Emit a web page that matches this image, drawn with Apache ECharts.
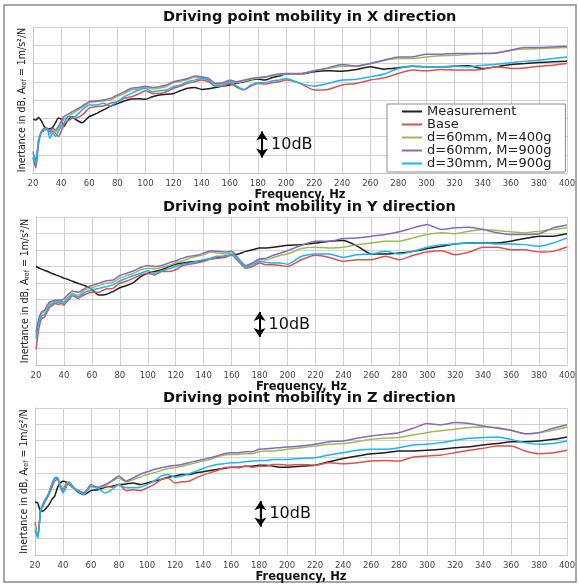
<!DOCTYPE html>
<html>
<head>
<meta charset="utf-8">
<script src="https://cdn.jsdelivr.net/npm/echarts@6/dist/echarts.min.js"></script>
<style>
  html, body { margin: 0; padding: 0; background: #fff; }
  #chart { width: 579px; height: 586px; }
</style>
</head>
<body>
<div id="chart"></div>
<script>
// frequency points (Hz), shared by every curve
const freq = [20,22,24,26,28,30,32,34,36,38,40,42,44,46,48,50,
  55,60,65,70,75,80,85,90,95,100,105,110,115,120,125,130,135,140,145,150,
  155,160,165,170,175,180,185,190,195,200,
  210,220,230,240,250,260,270,280,290,300,310,320,330,340,350,360,370,380,390,400];

const seriesNames = ['Measurement', 'Base', 'd=60mm, M=400g', 'd=60mm, M=900g', 'd=30mm, M=900g'];
const xTicks = [20,40,60,80,100,120,140,160,180,200,220,240,260,280,300,320,340,360,380,400];

// --- X direction (relative dB)
const measX = [29.5,29.0,30.4,28.5,25.5,24.0,24.2,25.0,27.5,30.2,29.5,25.5,28.0,30.0,30.9,29.5,
  27.5,30.9,32.5,34.5,36.5,38.0,39.5,40.5,40.7,40.4,41.8,42.7,43.1,43.6,45.1,46.4,46.9,45.8,46.2,46.9,
  47.6,48.2,49.1,50.0,50.9,51.5,50.9,52.2,53.1,54.2,
  54.2,55.5,56.0,55.8,56.7,58.2,56.9,57.6,58.5,58.2,58.2,58.5,58.7,57.3,58.2,59.5,60.0,60.5,60.9,61.3];
const baseX = [10.9,7.3,18.2,22.7,24.5,24.5,21.8,22.7,21.8,20.0,22.7,26.4,28.2,29.1,30.0,30.0,
  31.8,35.5,36.4,36.7,38.2,39.1,40.9,41.8,43.3,45.1,43.6,43.6,44.5,46.4,47.6,49.1,50.0,50.9,50.0,47.6,
  47.6,49.1,46.9,45.5,47.6,49.1,48.7,49.5,50.0,50.9,
  49.1,45.5,45.8,48.2,49.1,50.9,52.2,54.5,56.4,56.0,56.7,56.4,56.4,56.9,58.2,57.3,57.6,58.5,59.1,60.0];
const d60m400X = [9.0,4.0,17.0,22.5,23.5,24.5,22.0,23.5,22.5,24.5,27.0,29.5,30.5,31.5,32.5,33.5,
  36.0,38.5,39.0,39.5,40.0,42.0,43.5,45.5,46.0,47.0,46.0,46.5,47.5,49.5,50.3,51.2,52.5,52.2,51.2,48.5,
  49.0,50.5,49.5,50.3,51.2,52.0,52.3,53.2,53.8,54.2,
  54.2,56.0,57.3,58.5,58.5,60.0,61.8,62.7,62.7,63.6,64.2,64.5,65.1,65.5,65.8,67.3,68.0,68.2,68.5,68.7];
const d60m900X = [8.2,2.7,16.4,22.2,23.3,24.5,22.7,24.5,23.6,25.5,28.2,30.9,31.8,32.7,33.6,34.5,
  36.7,39.1,39.5,40.0,40.9,42.7,44.5,46.4,46.9,47.6,46.9,47.3,48.2,50.0,50.9,51.8,53.1,52.7,51.8,49.1,
  49.5,50.9,50.0,50.9,51.8,52.4,52.7,53.6,54.2,54.5,
  54.5,56.0,57.6,59.5,58.5,60.0,61.8,63.6,63.6,65.1,65.1,65.5,65.5,65.5,65.8,67.3,68.7,68.7,69.1,69.5];
const d30m900X = [11.8,5.5,18.2,22.7,23.6,24.5,19.1,21.8,20.0,22.7,25.5,27.3,30.0,30.9,30.5,30.9,
  34.5,37.3,37.3,38.2,36.7,39.1,41.8,43.6,45.5,46.4,44.5,45.1,45.5,47.3,48.2,50.0,50.9,51.8,50.9,47.6,
  48.2,50.0,47.6,45.8,48.2,49.5,49.5,50.4,50.9,51.8,
  49.1,47.6,49.1,50.9,51.3,52.7,54.2,57.3,58.5,58.2,58.2,58.5,58.2,59.1,59.6,60.4,61.3,61.8,62.7,63.6];

// --- Y direction
const measY = [59.9,59.0,58.3,57.6,57.0,56.2,55.5,54.8,54.2,53.6,52.8,52.3,51.6,51.0,50.3,49.7,
  48.2,46.0,42.5,42.9,44.6,47.0,48.3,50.3,53.8,55.8,56.9,57.9,59.9,61.3,62.0,62.6,63.0,63.4,64.6,65.0,
  66.1,67.1,67.5,69.1,70.1,71.2,71.2,71.6,72.2,72.8,
  73.2,74.2,75.3,75.7,72.2,67.5,67.5,68.1,69.1,70.8,72.2,73.6,74.2,74.2,74.2,75.3,76.9,78.3,78.3,79.8];
const baseY = [9.4,22.1,28.2,29.2,32.3,35.4,36.4,37.4,36.8,37.4,36.4,38.4,40.1,42.1,41.5,40.5,
  42.9,44.2,44.2,46.2,46.6,49.7,51.1,52.8,54.8,55.8,54.8,56.9,56.9,57.9,60.5,61.3,62.0,63.0,64.6,65.0,
  65.4,66.7,63.0,58.9,59.9,62.0,60.9,60.9,60.5,59.9,
  64.0,66.7,65.4,63.0,64.0,64.0,66.1,64.0,66.7,68.7,69.5,67.1,68.7,71.6,71.6,70.1,70.1,68.7,69.1,71.8];
const d60m400Y = [18.0,27.2,31.3,32.3,34.8,37.4,38.4,38.9,38.4,38.9,38.4,40.5,42.1,43.6,42.9,42.5,
  45.6,47.0,48.3,49.7,50.3,52.8,54.4,55.8,57.9,58.9,58.5,59.3,60.5,62.0,63.4,65.0,66.1,67.1,68.7,68.1,
  67.5,68.1,64.0,59.9,62.0,64.0,64.0,65.4,66.7,67.5,
  70.8,71.6,71.2,71.6,73.2,74.2,75.3,75.3,77.3,79.3,80.4,79.8,81.4,82.4,81.8,81.0,80.4,81.4,82.4,83.4];
const d60m900Y = [20.0,28.2,32.3,33.3,36.4,38.4,38.9,39.5,39.3,39.5,40.1,42.1,43.6,45.0,44.6,44.2,
  46.6,48.3,49.7,51.1,51.7,54.4,55.8,57.3,59.3,60.5,59.9,60.5,62.0,63.4,65.0,66.1,66.7,68.1,69.5,69.1,
  68.7,69.1,64.6,60.5,62.0,64.6,65.0,66.7,68.1,69.5,
  72.8,75.3,75.3,76.9,77.3,78.3,79.3,81.0,83.4,85.5,82.4,83.4,83.8,82.4,80.4,79.3,79.3,79.8,83.4,85.1];
const d30m900Y = [16.0,25.2,29.9,30.7,33.3,36.4,37.4,38.4,38.0,38.4,37.4,39.5,40.9,42.5,42.1,41.5,
  44.2,45.6,46.6,47.6,48.7,51.1,52.8,54.4,55.8,57.3,55.8,57.3,58.5,59.9,61.3,62.0,63.0,64.0,65.0,66.1,
  66.1,67.1,64.0,59.3,60.9,63.0,62.4,62.0,62.0,61.3,
  66.1,67.5,67.5,65.4,67.1,67.5,69.1,67.5,69.1,71.6,73.2,73.6,74.2,74.2,73.6,73.6,73.2,72.2,74.2,77.3];

// --- Z direction
const measZ = [32.4,31.8,26.7,27.1,28.7,30.8,33.9,35.9,41.1,44.1,45.2,44.8,43.5,42.1,40.7,39.0,
  37.0,39.4,40.0,41.5,42.1,43.1,43.5,44.1,43.1,44.1,45.2,46.2,47.6,48.3,49.3,49.3,50.3,50.9,51.7,52.4,
  53.0,53.8,53.8,54.4,54.4,55.0,55.0,54.4,53.8,53.8,
  54.4,55.0,57.1,59.1,60.6,62.0,62.6,63.7,63.7,64.1,64.7,65.7,66.3,67.4,68.2,69.4,69.4,69.8,70.8,72.3];
const baseZ = [20.1,11.3,26.7,30.8,33.9,37.0,41.1,45.2,46.2,43.1,40.0,43.5,44.8,43.1,41.1,40.0,
  38.0,43.1,41.1,42.1,41.5,43.1,39.4,40.0,39.4,41.1,43.1,46.2,47.2,44.1,44.8,45.2,47.2,48.9,50.3,51.7,
  53.4,53.8,53.4,54.4,53.8,54.4,54.4,55.4,55.4,55.0,
  55.4,55.0,56.5,55.9,56.5,57.5,57.9,57.5,60.0,60.6,61.2,62.6,64.1,65.3,66.7,66.7,63.7,62.0,62.6,64.1];
const d60m400Z = [18.5,11.3,27.7,31.8,34.9,38.6,43.1,46.8,47.2,42.1,39.0,42.1,44.8,43.1,41.1,39.4,
  38.0,42.1,41.5,42.1,45.2,47.2,44.8,46.2,47.6,49.3,50.3,51.7,53.0,53.4,54.4,55.4,56.5,57.5,58.5,60.0,
  61.2,61.6,61.6,62.0,62.0,63.2,63.7,63.7,64.1,64.7,
  65.7,66.7,67.8,68.2,69.4,70.8,71.5,71.9,73.5,74.9,76.0,77.0,78.0,78.4,78.0,76.4,74.3,74.9,76.4,78.4];
const d60m900Z = [14.4,11.3,26.7,31.2,34.5,38.0,43.1,46.8,46.8,42.1,38.6,41.5,44.1,42.7,40.7,39.4,
  38.0,42.1,41.5,43.1,45.6,48.3,45.2,47.2,49.3,50.9,52.4,53.4,54.4,54.8,55.4,56.5,57.5,58.5,59.5,60.6,
  62.0,62.6,62.6,63.2,63.2,64.7,65.1,65.3,65.7,66.1,
  66.7,67.8,69.4,69.8,71.5,72.9,73.9,74.9,77.6,80.5,79.7,81.1,80.5,79.0,77.6,76.4,74.3,74.9,77.6,79.7];
const d30m900Z = [15.4,10.3,27.7,31.8,34.9,38.0,43.1,47.2,47.6,42.1,38.0,41.1,44.1,42.1,40.7,39.4,
  37.0,42.1,40.7,38.0,40.0,43.1,41.1,41.1,41.5,43.1,45.2,48.3,49.3,47.6,48.3,49.7,51.3,53.0,54.4,55.4,
  55.9,56.5,56.5,57.1,57.5,57.9,57.9,58.5,58.5,58.5,
  59.1,59.5,61.2,62.6,64.1,64.7,64.7,65.7,67.4,67.8,68.8,70.2,71.5,71.9,72.3,70.8,68.8,67.8,68.2,69.8];

// 10 dB scale arrow, in data units of each panel
const arrowFreq = [183, 180, 181];
const arrowLow = [8.5, 17.0, 17.5];
const arrowHigh = [22.7, 32.3, 32.9];

const panels = [
  { title: 'Driving point mobility in X direction', ymax: 80, data: [measX, baseX, d60m400X, d60m900X, d30m900X] },
  { title: 'Driving point mobility in Y direction', ymax: 90, data: [measY, baseY, d60m400Y, d60m900Y, d30m900Y] },
  { title: 'Driving point mobility in Z direction', ymax: 90, data: [measZ, baseZ, d60m400Z, d60m900Z, d30m900Z] }
];

const colors = ['#1e1e1e', '#d9534f', '#9bbb59', '#8a68bb', '#1db3f0'];

const gridBoxes = [
  { left: 33, top: 27, width: 534, height: 146 },
  { left: 36, top: 217, width: 531, height: 148 },
  { left: 35, top: 408, width: 532, height: 147 }
];
const titleTops = [10, 200, 391];

const nameFont = "'Liberation Sans Narrow','DejaVu Sans Condensed',sans-serif";

var dom = document.getElementById('chart');
var myChart = echarts.init(dom, null, { renderer: 'canvas' });

var option = {
  animation: false,
  backgroundColor: '#fff',
  title: panels.map(function (p, i) {
    return {
      text: p.title, left: 163, top: titleTops[i], padding: 0,
      textStyle: { fontFamily: 'DejaVu Sans', fontWeight: 'bold', fontSize: 14.5, color: '#111' }
    };
  }),
  legend: {
    data: seriesNames,
    orient: 'vertical',
    left: 387, top: 104,
    padding: [1, 14, 2, 15],
    itemGap: 0, itemWidth: 20, itemHeight: 2,
    icon: 'rect',
    backgroundColor: '#fff',
    borderColor: '#8c8c8c', borderWidth: 1,
    textStyle: { fontFamily: 'DejaVu Sans', fontSize: 13, color: '#222', lineHeight: 12 }
  },
  grid: gridBoxes,
  xAxis: gridBoxes.map(function (g, i) {
    return {
      type: 'value', gridIndex: i, min: 20, max: 400, interval: 20,
      name: 'Frequency, Hz', nameLocation: 'middle', nameGap: 16,
      nameTextStyle: { fontFamily: 'DejaVu Sans', fontWeight: 'bold', fontSize: 11.5, color: '#111' },
      axisLine: { lineStyle: { color: '#c4c4c4' } },
      axisTick: { show: false },
      axisLabel: { margin: 6, fontFamily: 'DejaVu Sans', fontSize: 8.5, color: '#444' },
      splitLine: { show: true, lineStyle: { color: '#d2d2d2' } }
    };
  }),
  yAxis: panels.map(function (p, i) {
    return {
      type: 'value', gridIndex: i, min: 0, max: p.ymax, interval: 10,
      name: 'Inertance in dB, A{sub|ref} = 1m/s²/N', nameLocation: 'middle', nameGap: 5,
      nameTextStyle: {
        fontFamily: nameFont, fontSize: 10.5, color: '#222',
        rich: { sub: { fontFamily: nameFont, fontSize: 7, verticalAlign: 'bottom', color: '#222' } }
      },
      axisLine: { show: true, lineStyle: { color: '#c4c4c4' } },
      axisTick: { show: false },
      axisLabel: { show: false },
      splitLine: { show: true, lineStyle: { color: '#d2d2d2' } }
    };
  }),
  graphic: [{
    type: 'rect', silent: true,
    shape: { x: 4, y: 5, width: 572, height: 577 },
    style: { fill: 'none', stroke: '#8a8a8a', lineWidth: 1.5 }
  }],
  series: []
};

panels.forEach(function (p, g) {
  p.data.forEach(function (vals, k) {
    var s = {
      name: seriesNames[k],
      type: 'line',
      xAxisIndex: g, yAxisIndex: g,
      symbol: 'none',
      smooth: 0.2,
      data: freq.map(function (f, i) { return [f, vals[i]]; }),
      lineStyle: { width: 1.5, color: colors[k] },
      itemStyle: { color: colors[k] }
    };
    if (k === 0) {
      s.markLine = {
        silent: true,
        symbol: ['arrow', 'arrow'], symbolSize: [9, 9],
        label: { show: false },
        lineStyle: { color: '#000', width: 2, type: 'solid' },
        data: [[{ coord: [arrowFreq[g], arrowLow[g]] }, { coord: [arrowFreq[g], arrowHigh[g]] }]]
      };
      s.markPoint = {
        silent: true,
        symbol: 'circle', symbolSize: 0,
        label: { show: true, position: 'right', distance: 9, formatter: '10dB',
                 fontFamily: 'DejaVu Sans', fontSize: 16, color: '#111' },
        data: [{ coord: [arrowFreq[g], (arrowLow[g] + arrowHigh[g]) / 2] }]
      };
    }
    option.series.push(s);
  });
});

if (option && typeof option === 'object') {
  myChart.setOption(option);
}

window.addEventListener('resize', myChart.resize);
</script>
</body>
</html>
